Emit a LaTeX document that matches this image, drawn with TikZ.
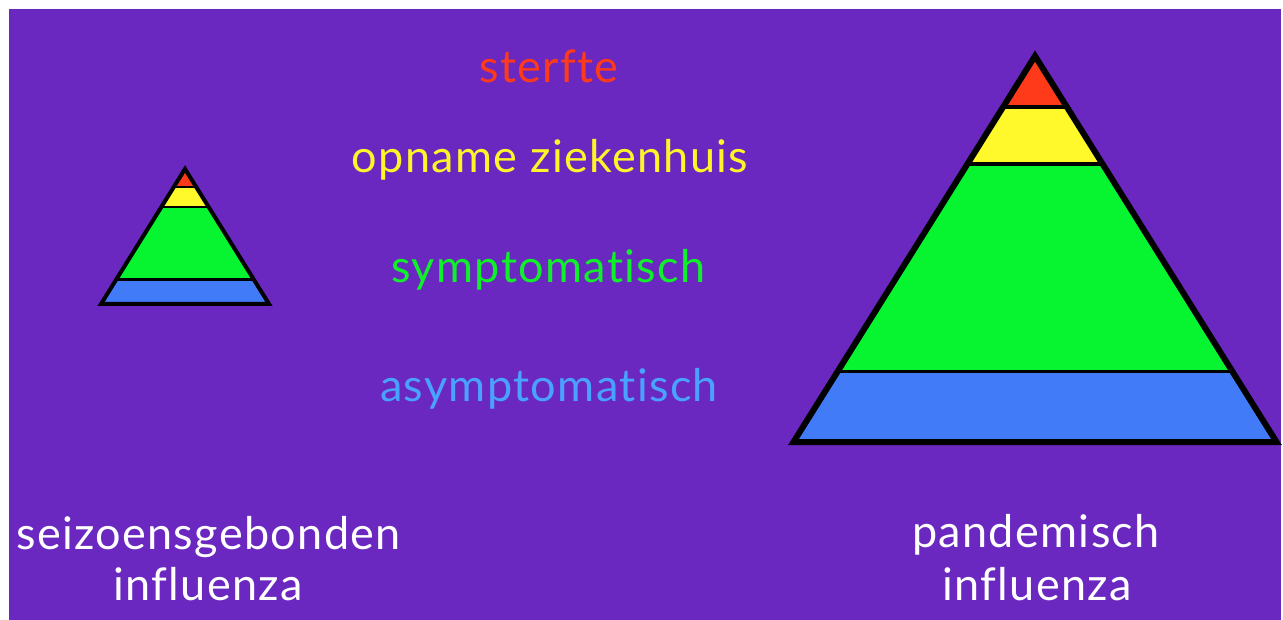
\documentclass[tikz,border=0pt]{standalone}
\usepackage{fontspec}
\setmainfont{Lato}[Ligatures=NoCommon, LetterSpace=3]
\usetikzlibrary{calc}

\definecolor{bgpurple}{HTML}{6A28C0}
\definecolor{layred}{HTML}{FF3A1A}
\definecolor{layyellow}{HTML}{FFF82A}
\definecolor{laygreen}{HTML}{06F530}
\definecolor{layblue}{HTML}{427BF8}
\definecolor{txtred}{HTML}{FF3A1A}
\definecolor{txtyellow}{HTML}{FFF32A}
\definecolor{txtgreen}{HTML}{10F02A}
\definecolor{txtblue}{HTML}{4AA2FF}

\tikzset{
  lbl/.style={anchor=base, inner sep=0pt, font=\fontsize{45}{52}\selectfont},
  caption/.style={lbl, text=white},
}

% A four-layer pyramid: #1 name prefix, #2 apex, #3 bottom left, #4 bottom right,
% #5 outline width, #6 width of the lines between the layers
\newcommand\layeredpyramid[6]{%
  \coordinate (#1-a) at #2;
  \coordinate (#1-bl) at #3;
  \coordinate (#1-br) at #4;
  \foreach \t/\n in {0.132/1,0.28/2,0.818/3}{%
    \coordinate (#1-l\n) at ($(#1-a)!\t!(#1-bl)$);
    \coordinate (#1-r\n) at ($(#1-a)!\t!(#1-br)$);
  }
  \fill[layred] (#1-a) -- (#1-l1) -- (#1-r1) -- cycle;
  \fill[layyellow] (#1-l1) -- (#1-l2) -- (#1-r2) -- (#1-r1) -- cycle;
  \fill[laygreen] (#1-l2) -- (#1-l3) -- (#1-r3) -- (#1-r2) -- cycle;
  \fill[layblue] (#1-l3) -- (#1-bl) -- (#1-br) -- (#1-r3) -- cycle;
  \draw[line width=#6] (#1-l1) -- (#1-r1) (#1-l2) -- (#1-r2) (#1-l3) -- (#1-r3);
  \draw[line width=#5, line join=miter] (#1-a) -- (#1-bl) -- (#1-br) -- cycle;
}

\begin{document}
\begin{tikzpicture}[x=1pt, y=-1pt]
  \useasboundingbox (0,0) rectangle (1283,620);
  \fill[white] (0,0) rectangle (1283,620);
  \fill[bgpurple] (9,9) rectangle (1281,620);

  % seasonal (small) and pandemic (large) pyramids
  \layeredpyramid{small}{(185,169)}{(101,304)}{(269,304)}{4pt}{2.5pt}
  \layeredpyramid{large}{(1035,56)}{(793.5,442)}{(1276.5,442)}{6pt}{3.5pt}

  % layer names
  \node[lbl, text=txtred] (sterfte) at (549,83) {sterfte};
  \node[lbl, text=txtyellow] (opname) at (550,173) {opname ziekenhuis};
  \node[lbl, text=txtgreen] (sympt) at (548.5,283) {symptomatisch};
  \node[lbl, text=txtblue] (asympt) at (549,402) {asymptomatisch};

  % captions under the pyramids
  \node[caption] (seas1) at (208.5,549) {seizoensgebonden};
  \node[caption] (seas2) at (208,600) {influenza};
  \node[caption] (pand1) at (1036,547) {pandemisch};
  \node[caption] (pand2) at (1037,600) {influenza};
\end{tikzpicture}
\end{document}
